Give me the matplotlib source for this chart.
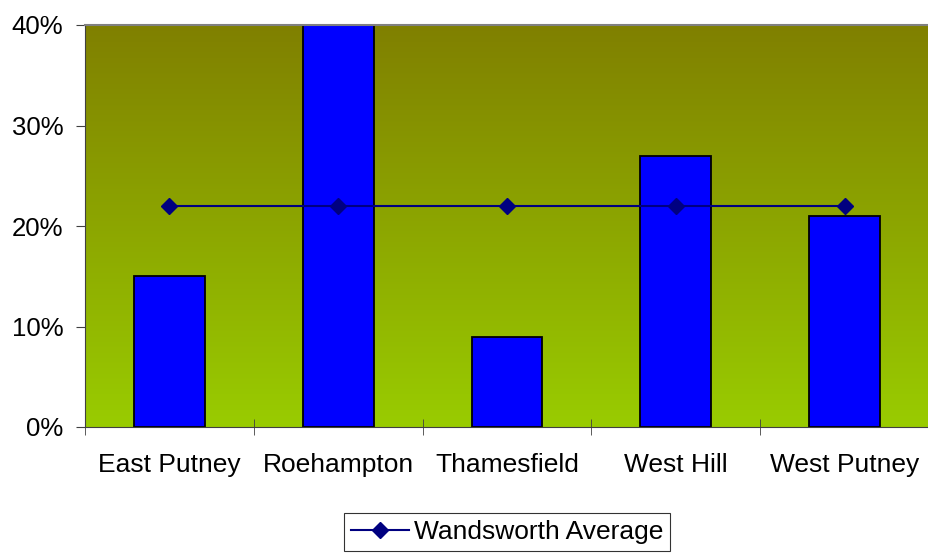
import matplotlib.pyplot as plt
import numpy as np
from matplotlib.colors import LinearSegmentedColormap

wards = ['East Putney', 'Roehampton', 'Thamesfield', 'West Hill', 'West Putney']
ward_pct = [15, 40, 9, 27, 21]
average_pct = [22, 22, 22, 22, 22]

plt.rcParams['font.family'] = ['Liberation Sans', 'DejaVu Sans']

fig = plt.figure(figsize=(9.29, 5.54), dpi=100)
ax = fig.add_axes([85 / 929, 127 / 554, 844 / 929, 402 / 554])

# gradient background
cmap = LinearSegmentedColormap.from_list('bg', ['#99cc00', '#808000'])
grad = np.linspace(0, 1, 256).reshape(-1, 1)
ax.imshow(grad, cmap=cmap, aspect='auto', origin='lower',
          extent=[0, 1, 0, 1], transform=ax.transAxes, zorder=0)

x = np.arange(len(wards))
ax.bar(x, ward_pct, width=0.42, color='#0000ff', edgecolor='black', linewidth=1.3, zorder=2)
ax.plot(x, average_pct, color='#000080', linewidth=1.5, marker='D', markersize=8,
        label='Wandsworth Average', zorder=3)

ax.set_xlim(-0.5, len(wards) - 0.5)
ax.set_ylim(0, 40)
ax.set_yticks([0, 10, 20, 30, 40])
ax.set_yticklabels(['%d%%' % v for v in [0, 10, 20, 30, 40]])
ax.set_xticks(x)
ax.set_xticklabels(wards)
ax.set_xticks(np.arange(-0.5, len(wards), 1), minor=True)
ax.tick_params(axis='x', which='major', length=0, pad=19, labelsize=19)
ax.tick_params(axis='x', which='minor', length=12, direction='inout', color='#404040')
ax.tick_params(axis='y', length=6.5, color='#404040', labelsize=18.5, pad=9)

ax.spines['right'].set_visible(False)
ax.spines['top'].set_color('#808080')
ax.spines['top'].set_linewidth(1.5)
ax.spines['left'].set_color('#404040')
ax.spines['bottom'].set_color('#404040')

leg = fig.legend(loc='center', bbox_to_anchor=(507 / 929, 22 / 554), fontsize=19,
                 frameon=True, fancybox=False, edgecolor='black', handlelength=2.2,
                 handletextpad=0.2, borderpad=0.25, borderaxespad=0)
leg.get_frame().set_linewidth(0.8)

plt.savefig('out.png', dpi=100)
